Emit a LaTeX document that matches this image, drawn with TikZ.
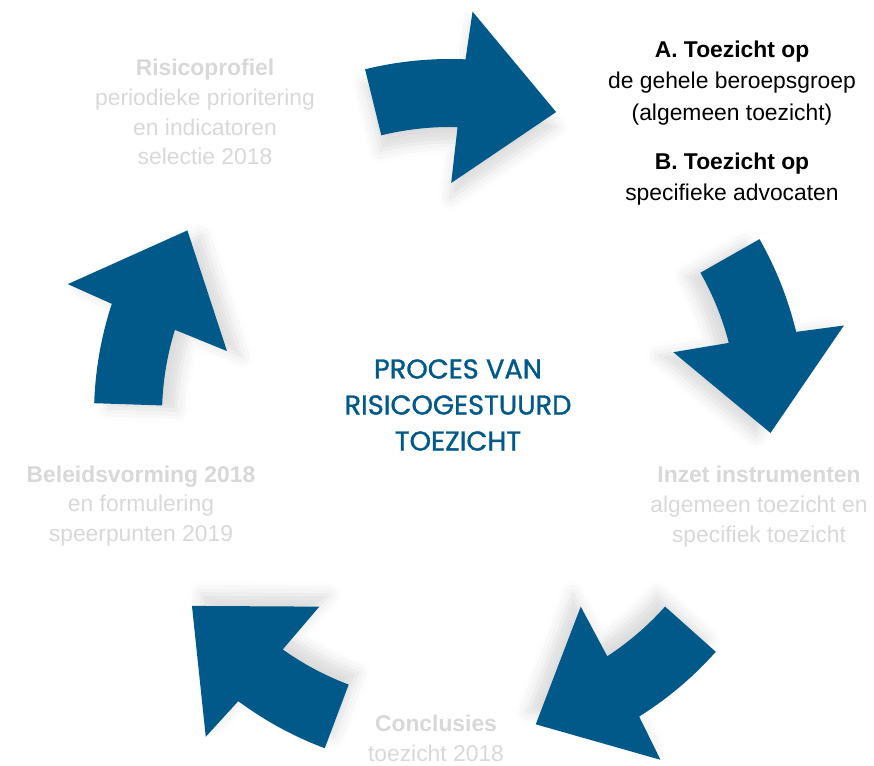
\documentclass[tikz,border=0pt]{standalone}
\usepackage{fontspec}
\setmainfont{Liberation Sans}
\newfontfamily\kopfont[FakeBold=1.2]{Poppins}
\usepackage{tikz}
\usetikzlibrary{shadows.blur}
\definecolor{procesblauw}{RGB}{0,89,137}
\definecolor{lichtgrijs}{RGB}{216,216,216}
\tikzset{
    ringpijl/.style={
    fill=procesblauw,draw=none
    },
    stap/.style={
    align=center,text=lichtgrijs,inner sep=0pt,font=\fontsize{13}{17}\selectfont
    },
    actief/.style={
    align=center,text=black,inner sep=0pt,font=\fontsize{13}{18}\selectfont
    },
    midden/.style={
    align=center,text=procesblauw,inner sep=0pt,font=\kopfont\fontsize{15.5}{20.5}\selectfont
    },
}

\begin{document}
\begin{tikzpicture}
   \useasboundingbox (0,0) rectangle (17.48,15.32);
   \coordinate (M) at (9,7.02);

   % vijf gebogen pijlen rond M
   \begin{scope}[shift={(M)}]
   \foreach \s/\j/\t in {103.8/88/70.7, 29.6/14/-3.2, -41.7/-57.4/-74.5, -110.6/-126/-143.5, 178.1/162.3/144.9}{
     \pgfmathsetmacro\m{(\s+\t)/2}
     \pgfmathsetmacro\dx{-0.3*cos(\m)}
     \pgfmathsetmacro\dy{-0.3*sin(\m)}
     \fill[ringpijl,blur shadow={shadow xshift=\dx cm,shadow yshift=\dy cm,shadow opacity=14,shadow blur radius=0.25cm}]
       (\s:5.76) arc[start angle=\s,end angle=\j+0.5,radius=5.76]
       -- ({\j+1.7}:4.64) -- (\t:6.42) -- ({\j-1.2}:8.08)
       -- ({\j-0.5}:7.12) arc[start angle=\j-0.5,end angle=\s,radius=7.12] -- cycle;
   }
   \end{scope}

   \node[midden] (proces) at (9.16,7.22) {PROCES VAN\\RISICOGESTUURD\\TOEZICHT};

   \node[stap] (risico) at (4.1,13.08) {\textbf{Risicoprofiel}\\periodieke prioritering\\en indicatoren\\selectie 2018};
   \node[actief] (toezichtA) at (14.64,13.66) {\textbf{A. Toezicht op}\\de gehele beroepsgroep\\(algemeen toezicht)};
   \node[actief] (toezichtB) at (14.64,11.74) {\textbf{B. Toezicht op}\\specifieke advocaten};
   \node[stap] (inzet) at (15.18,5.19) {\textbf{Inzet instrumenten}\\algemeen toezicht en\\specifiek toezicht};
   \node[stap] (conclusies) at (8.72,0.55) {\textbf{Conclusies}\\toezicht 2018};
   \node[stap] (beleid) at (2.82,5.2) {\textbf{Beleidsvorming 2018}\\en formulering\\speerpunten 2019};
\end{tikzpicture}
\end{document}
